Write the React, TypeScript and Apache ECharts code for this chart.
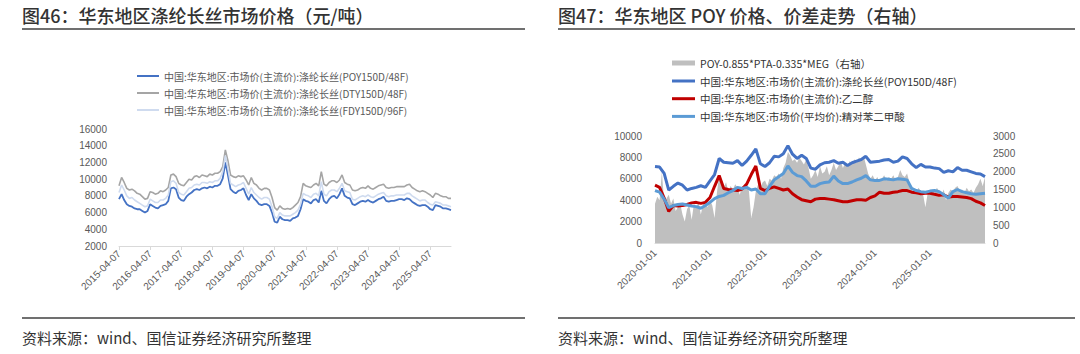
import React, { useEffect, useRef } from "react";
import * as echarts from "echarts";

// ---------- categories ----------
function monthSeq(y0: number, m0: number, count: number, day: string): string[] {
  const out: string[] = [];
  let y = y0, m = m0;
  for (let i = 0; i < count; i++) {
    out.push(`${y}-${String(m).padStart(2, "0")}-${day}`);
    m++;
    if (m > 12) { m = 1; y++; }
  }
  return out;
}
function halfMonthSeq(y0: number, m0: number, count: number): string[] {
  const out: string[] = [];
  let y = y0, m = m0;
  for (let i = 0; i < count; i++) {
    out.push(`${y}-${String(m).padStart(2, "0")}-${i % 2 === 0 ? "01" : "16"}`);
    if (i % 2 === 1) { m++; if (m > 12) { m = 1; y++; } }
  }
  return out;
}

const leftDates = monthSeq(2015, 4, 129, "07");
const rightDates = monthSeq(2020, 1, 73, "01");
const spreadDates = halfMonthSeq(2020, 1, 145);

// ---------- left chart (图46) ----------
const leftNames = [
  "中国:华东地区:市场价(主流价):涤纶长丝(POY150D/48F)",
  "中国:华东地区:市场价(主流价):涤纶长丝(DTY150D/48F)",
  "中国:华东地区:市场价(主流价):涤纶长丝(FDY150D/96F)",
];
const dty = [
  9200, 10200, 9600, 8900, 8700, 8800, 8600, 8300, 8200, 7900, 7600, 7700,
  8500, 8400, 8200, 8300, 8600, 8500, 8700, 9000, 10500, 10600, 10300, 9500,
  9300, 9200, 9600, 10000, 9900, 10300, 10400, 10200, 10500, 10400, 10300, 10600,
  10500, 10700, 10700, 10900, 11500, 13500, 12200, 10500, 10300, 10200, 10400, 10300,
  10400, 9900, 9300, 10200, 9500, 9300, 8900, 8700, 8900, 8900, 8700, 7800,
  6600, 6300, 6800, 6500, 6400, 6500, 6400, 6600, 6900, 7200, 7900, 9500,
  9200, 9100, 9000, 9300, 9500, 9200, 10900, 9400, 9200, 9600, 9800, 9800,
  9600, 9900, 10500, 9600, 9400, 9300, 8700, 8600, 8700, 8900, 9000, 8900,
  9200, 8900, 8800, 9000, 9200, 9300, 9400, 9000, 8900, 9000, 9000, 9100,
  9100, 9100, 9100, 9300, 9400, 9000, 8800, 8600, 8500, 8600, 8500, 8300,
  8100, 7800, 8300, 8200, 8000, 7900, 7900, 7700, 7700,
];
const fdy = [
  8400, 9300, 8700, 8000, 7700, 7800, 7500, 7300, 7100, 6900, 6700, 6800,
  7600, 7400, 7200, 7200, 7500, 7500, 7700, 8100, 9700, 9800, 9500, 8400,
  8200, 8100, 8500, 8900, 9000, 9300, 9400, 9300, 9600, 9600, 9500, 9700,
  9600, 9800, 9800, 10100, 10900, 12800, 11300, 9500, 9300, 9100, 9300, 9400,
  9600, 8900, 8200, 9000, 8400, 8100, 7800, 7600, 7800, 7800, 7600, 6700,
  5500, 5300, 6000, 5700, 5600, 5600, 5600, 5800, 6000, 6300, 7000, 8300,
  8100, 8000, 7800, 8200, 8300, 8000, 9700, 8200, 8000, 8500, 8700, 8700,
  8500, 8900, 9500, 8600, 8500, 8400, 7600, 7500, 7700, 7900, 8000, 7900,
  8100, 7900, 7800, 8000, 8200, 8300, 8400, 8000, 7900, 8000, 8000, 8100,
  8100, 8100, 8100, 8300, 8300, 8000, 7800, 7600, 7400, 7500, 7500, 7200,
  7000, 6900, 7300, 7200, 7100, 6900, 6900, 6800, 6700,
];
const poyL = [
  7600, 8200, 7500, 7000, 6800, 6700, 6500, 6400, 6400, 6200, 6000, 6200,
  7000, 6800, 6600, 6500, 6800, 6900, 7000, 7400, 8900, 9000, 8800, 7800,
  7500, 7400, 7900, 8200, 8400, 8700, 8800, 8700, 8900, 9000, 8900, 9100,
  9000, 9200, 9200, 9400, 10100, 12000, 10500, 8800, 8500, 8300, 8600, 8700,
  8900, 8100, 7500, 8200, 7700, 7400, 7000, 6900, 7000, 7000, 6800, 6000,
  4900, 4800, 5500, 5200, 5100, 5100, 5000, 5300, 5400, 5600, 6400, 7600,
  7400, 7300, 7100, 7500, 7600, 7200, 8600, 7400, 7100, 7600, 7900, 8000,
  7700, 8200, 8900, 8000, 7800, 7700, 7000, 6900, 7100, 7300, 7400, 7300,
  7500, 7300, 7200, 7400, 7600, 7700, 7900, 7400, 7300, 7400, 7400, 7500,
  7600, 7600, 7500, 7700, 7600, 7300, 7100, 6900, 6800, 6900, 6900, 6700,
  6400, 6300, 6900, 6800, 6700, 6500, 6500, 6400, 6300,
];

// ---------- right chart (图47) ----------
const spreadName = "POY-0.855*PTA-0.335*MEG（右轴）";
const poyName = "中国:华东地区:市场价(主流价):涤纶长丝(POY150D/48F)";
const megName = "中国:华东地区:市场价(主流价):乙二醇";
const ptaName = "中国:华东地区:市场价(平均价):精对苯二甲酸";
const poyR = [
  7150, 7100, 6500, 4950, 5300, 5600, 5400, 4950, 5100, 5200, 5350, 5200,
  5800, 6400, 7900, 7550, 7500, 7450, 7700, 7250, 7650, 8200, 8800, 7400,
  7150, 7500, 8100, 8050, 8350, 9100, 8300, 7900, 8200, 7900, 7000, 6900,
  7300, 7500, 7550, 7700, 7450, 7550, 7250, 7500, 7650, 7800, 8100, 7550,
  7600, 7650, 7750, 7800, 7550, 7650, 8050, 7900, 7400, 7050, 7350, 7100,
  7100, 7000, 6950, 6600, 6750, 6650, 7050, 6800, 6800, 6650, 6500, 6450,
  6200,
];
const meg = [
  5400, 5200, 4200, 2950, 3500, 3450, 3500, 3600, 3750, 3800, 3700, 3800,
  4250, 5300, 6300, 5100, 5000, 4950, 4900, 5050, 5500, 6400, 7200, 5100,
  4900, 5100, 5250, 5100, 4950, 5050, 4600, 4300, 4050, 3950, 3850, 4100,
  4150, 4150, 4100, 4050, 3950, 3850, 3850, 3950, 4050, 4050, 4000, 4250,
  4400, 4750, 4650, 4650, 4750, 4800, 4900, 4900, 4750, 4700, 4600, 4650,
  4650, 4550, 4450, 4500, 4300, 4350, 4350, 4300, 4250, 4150, 3900, 3750,
  3500,
];
const pta = [
  4900, 4750, 4100, 3300, 3500, 3600, 3650, 3550, 3450, 3400, 3250, 3500,
  3800, 4150, 4350, 4450, 4700, 4900, 5200, 5100, 5200, 4950, 5050, 4600,
  4600, 5300, 5900, 6200, 6500, 7200, 6600, 6300, 6200, 5800, 5300, 5300,
  5550, 5650, 5700, 6250, 5800, 5550, 5550, 5700, 5900, 6050, 6300, 5900,
  5850, 5850, 6000, 5950, 5900, 6000, 5950, 5900, 5100, 4900, 4800, 4750,
  4850, 4900, 4800, 4500, 4200, 4800, 5000, 4800, 4700, 4600, 4550, 4600,
  4650,
];
const spread = [
  1100, 1300, 1200, 2000, 1150, 1250, 1350, 1100, 1250, 900, 1000, 1100,
  800, 600, 950, 1050, 650, 1100, 1000, 1150, 800, 1100, 1150, 1000,
  1200, 1050, 700, 1400, 1900, 1650, 1550, 1700, 1450, 1600, 1500, 1650,
  1550, 1350, 1600, 1500, 1650, 1450, 700, 1000, 1450, 1650, 1550, 1700,
  1750, 1600, 1800, 1750, 1900, 1850, 1950, 1800, 2100, 2250, 2550, 2450,
  2300, 2350, 2250, 2400, 2300, 2200, 2350, 2100, 1800, 1900, 2050, 1850,
  2150, 1950, 2000, 2150, 1900, 2050, 2250, 2050, 2150, 2300, 2100, 2250,
  2150, 2300, 2200, 2350, 2250, 2400, 2300, 2450, 2200, 1950, 1800, 1900,
  1750, 1850, 1700, 1800, 1900, 1750, 1850, 1800, 1900, 1750, 1850, 2050,
  1900, 1850, 1950, 1700, 1500, 1450, 1400, 1550, 1450, 1350, 1000, 1400,
  1450, 1500, 1400, 1550, 1450, 1350, 1500, 1200, 1400, 1500, 1450, 1550,
  1600, 1450, 1500, 1400, 1550, 1450, 1500, 1400, 1550, 1650, 1800, 1600,
  1850,
];

const titleLeft = "图46：华东地区涤纶长丝市场价格（元/吨）";
const titleRight = "图47：华东地区 POY 价格、价差走势（右轴）";
const sourceText = "资料来源：wind、国信证券经济研究所整理";

const CJK = '"Noto Sans CJK SC", sans-serif';
const NUM = 'Arial, "Liberation Sans", sans-serif';

export default function App() {
  const ref = useRef<HTMLDivElement>(null);
  useEffect(() => {
    if (!ref.current) return;
    const chart = echarts.init(ref.current, undefined, { renderer: "svg" });
    const axisLabelBase = { fontSize: 10, color: "#595959", fontFamily: NUM };
    const plain = (v: number) => String(v);
    const option: any = {
      animation: false,
      grid: [
        { left: 119, top: 129, width: 332, height: 117 },
        { left: 655, top: 136, width: 330, height: 107 },
      ],
      xAxis: [
        {
          gridIndex: 0, type: "category", data: leftDates, boundaryGap: false,
          axisLine: { lineStyle: { color: "#D9D9D9" } },
          axisTick: { interval: 11, length: 4, lineStyle: { color: "#D9D9D9" } },
          axisLabel: { ...axisLabelBase, interval: 11, rotate: 45, margin: 6 },
        },
        {
          gridIndex: 1, type: "category", data: rightDates, boundaryGap: false,
          axisLine: { lineStyle: { color: "#D9D9D9" } },
          axisTick: { show: false },
          axisLabel: { ...axisLabelBase, interval: (i: number) => i % 12 === 0 && i < 72, rotate: 45, margin: 8 },
        },
        { gridIndex: 1, type: "category", data: spreadDates, boundaryGap: false, show: false },
      ],
      yAxis: [
        {
          gridIndex: 0, type: "value", min: 2000, max: 16000, interval: 2000,
          splitLine: { show: false }, axisLine: { show: false }, axisTick: { show: false },
          axisLabel: { ...axisLabelBase, margin: 12, formatter: plain },
        },
        {
          gridIndex: 1, type: "value", min: 0, max: 10000, interval: 2000,
          splitLine: { show: false }, axisLine: { show: false }, axisTick: { show: false },
          axisLabel: { ...axisLabelBase, margin: 13, formatter: plain },
        },
        {
          gridIndex: 1, type: "value", position: "right", min: 0, max: 3000, interval: 500,
          splitLine: { show: false }, axisLine: { show: false }, axisTick: { show: false },
          axisLabel: { ...axisLabelBase, margin: 8, formatter: plain },
        },
      ],
      legend: [
        {
          orient: "vertical", left: 137, top: 70, padding: 0, itemWidth: 22, itemHeight: 2, itemGap: 5,
          data: leftNames.map((n) => ({ name: n, icon: "rect" })),
          textStyle: { fontSize: 10, color: "#595959", fontFamily: CJK, lineHeight: 12 },
        },
        {
          orient: "vertical", left: 672, top: 57, padding: 0, itemWidth: 23, itemHeight: 5, itemGap: 5.5,
          data: [{ name: spreadName, icon: "rect", itemStyle: { color: "#BFBFBF" } }],
          textStyle: { fontSize: 10.5, color: "#333", fontFamily: CJK, lineHeight: 12 },
        },
        {
          orient: "vertical", left: 672, top: 75, padding: 0, itemWidth: 23, itemHeight: 3, itemGap: 5.7,
          data: [
            { name: poyName, icon: "rect" },
            { name: megName, icon: "rect" },
            { name: ptaName, icon: "rect" },
          ],
          textStyle: { fontSize: 10.5, color: "#333", fontFamily: CJK, lineHeight: 12 },
        },
      ],
      series: [
        {
          name: leftNames[0], type: "line", xAxisIndex: 0, yAxisIndex: 0, data: poyL,
          symbol: "none", lineStyle: { color: "#4472C4", width: 1.8 }, itemStyle: { color: "#4472C4" },
        },
        {
          name: leftNames[1], type: "line", xAxisIndex: 0, yAxisIndex: 0, data: dty,
          symbol: "none", lineStyle: { color: "#A5A5A5", width: 1.6 }, itemStyle: { color: "#A5A5A5" },
        },
        {
          name: leftNames[2], type: "line", xAxisIndex: 0, yAxisIndex: 0, data: fdy,
          symbol: "none", lineStyle: { color: "#CFDBEF", width: 1.6 }, itemStyle: { color: "#CFDBEF" },
        },
        {
          name: spreadName, type: "line", xAxisIndex: 2, yAxisIndex: 2, data: spread,
          symbol: "none", lineStyle: { width: 0, color: "#BFBFBF" },
          areaStyle: { color: "#BFBFBF", opacity: 1 }, itemStyle: { color: "#BFBFBF" },
        },
        {
          name: poyName, type: "line", xAxisIndex: 1, yAxisIndex: 1, data: poyR,
          symbol: "none", lineStyle: { color: "#4472C4", width: 3 }, itemStyle: { color: "#4472C4" },
        },
        {
          name: megName, type: "line", xAxisIndex: 1, yAxisIndex: 1, data: meg,
          symbol: "none", lineStyle: { color: "#C00000", width: 3 }, itemStyle: { color: "#C00000" },
        },
        {
          name: ptaName, type: "line", xAxisIndex: 1, yAxisIndex: 1, data: pta,
          symbol: "none", lineStyle: { color: "#5B9BD5", width: 3 }, itemStyle: { color: "#5B9BD5" },
        },
      ],
      graphic: [
        {
          type: "text", x: 22, y: 15,
          style: { text: titleLeft, fontSize: 18, fontWeight: 500, fill: "#333", fontFamily: CJK, verticalAlign: "middle" },
        },
        {
          type: "text", x: 558, y: 15,
          style: { text: titleRight, fontSize: 18, fontWeight: 500, fill: "#333", fontFamily: CJK, verticalAlign: "middle" },
        },
        { type: "line", shape: { x1: 22, y1: 29, x2: 525, y2: 29 }, style: { stroke: "#404040", lineWidth: 1.5 } },
        { type: "line", shape: { x1: 558, y1: 29, x2: 1075, y2: 29 }, style: { stroke: "#404040", lineWidth: 1.5 } },
        { type: "line", shape: { x1: 22, y1: 318, x2: 525, y2: 318 }, style: { stroke: "#404040", lineWidth: 1.5 } },
        { type: "line", shape: { x1: 558, y1: 318, x2: 1075, y2: 318 }, style: { stroke: "#404040", lineWidth: 1.5 } },
        {
          type: "text", x: 22, y: 337,
          style: { text: sourceText, fontSize: 15, fill: "#333", fontFamily: CJK, verticalAlign: "middle" },
        },
        {
          type: "text", x: 558, y: 337,
          style: { text: sourceText, fontSize: 15, fill: "#333", fontFamily: CJK, verticalAlign: "middle" },
        },
      ],
    };
    chart.setOption(option);
    return () => chart.dispose();
  }, []);
  return (
    <div
      ref={ref}
      style={{ position: "fixed", left: 0, top: 0, width: 1080, height: 354, background: "#fff" }}
    />
  );
}
